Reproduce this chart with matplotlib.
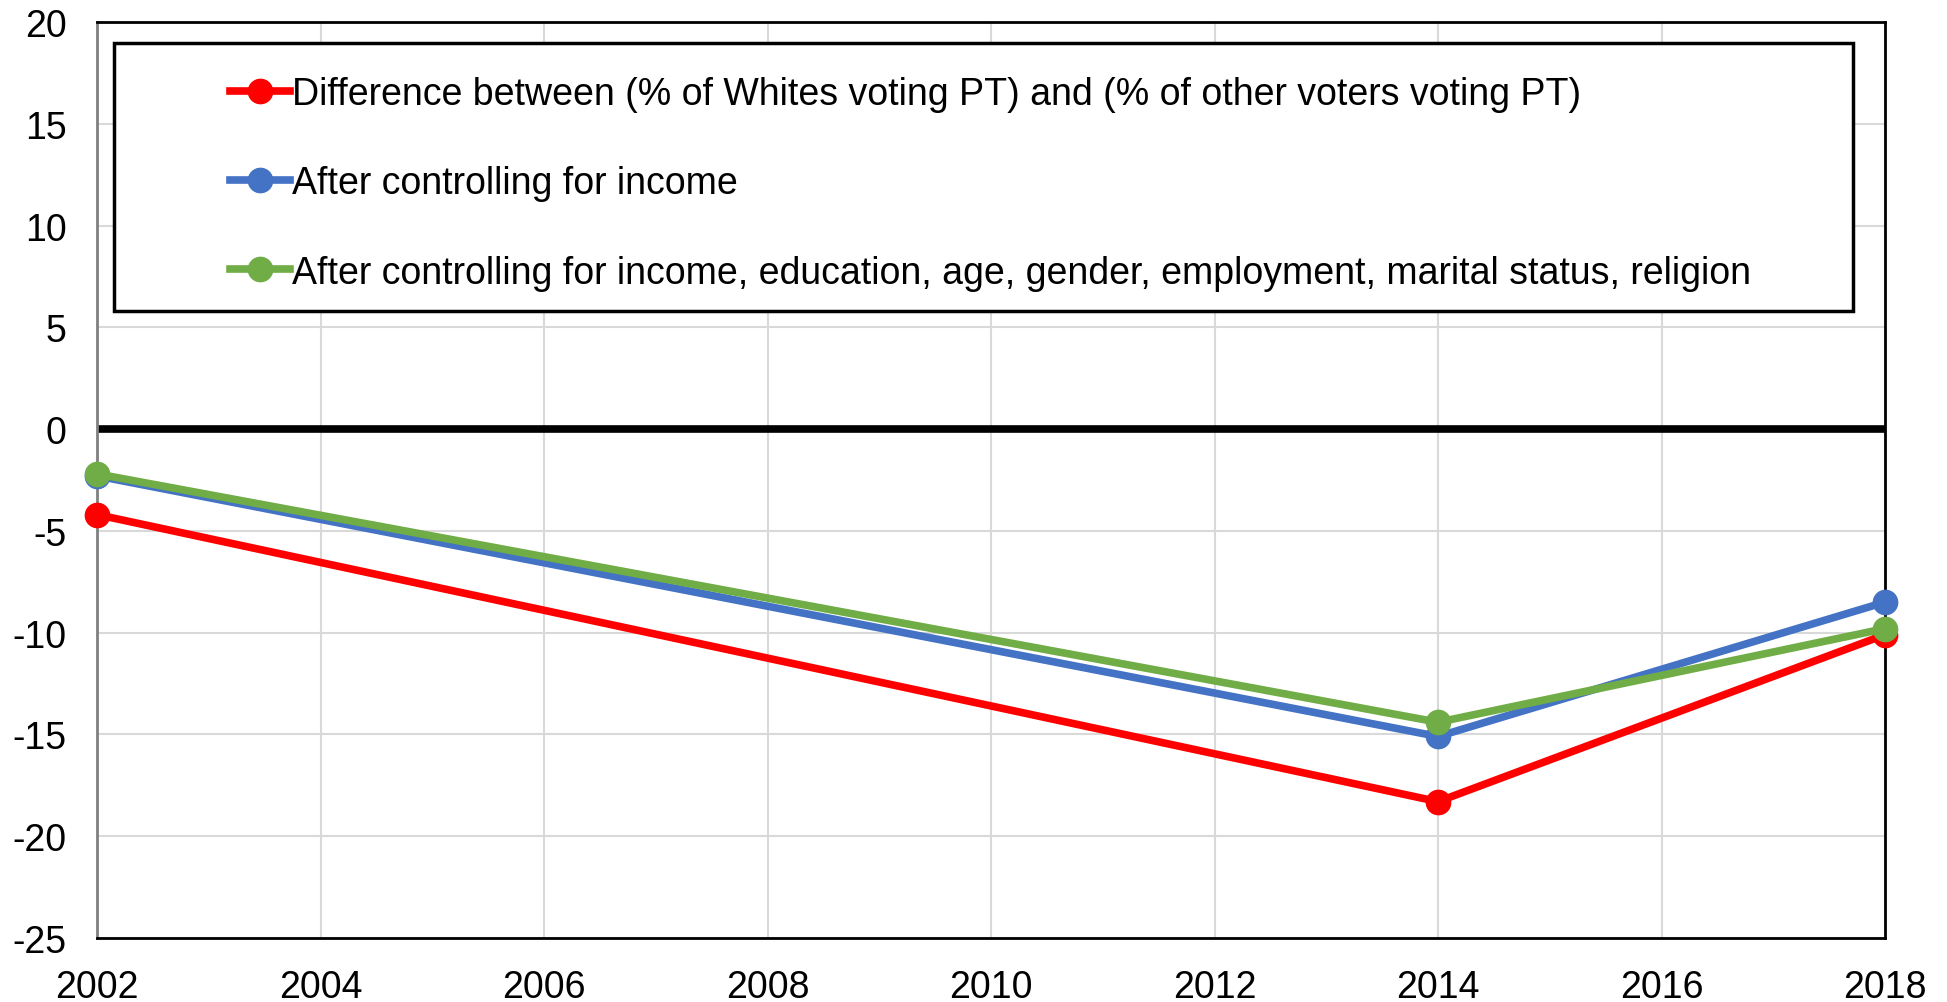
import matplotlib
matplotlib.use('Agg')
import matplotlib.pyplot as plt
from matplotlib.patches import Rectangle

# Data
years = [2002, 2014, 2018]
raw_gap = [-4.2, -18.3, -10.1]
ctrl_income = [-2.3, -15.1, -8.5]
ctrl_all = [-2.2, -14.4, -9.8]

labels = [
    'Difference between (% of Whites voting PT) and (% of other voters voting PT)',
    'After controlling for income',
    'After controlling for income, education, age, gender, employment, marital status, religion',
]
colors = ['#FF0000', '#4472C4', '#70AD47']

plt.rcParams['font.family'] = ['Liberation Sans', 'DejaVu Sans']
plt.rcParams['axes.unicode_minus'] = False

fig = plt.figure(figsize=(19.47, 10.03), dpi=100)
ax = fig.add_axes([97 / 1947, 1 - 939 / 1003, 1788 / 1947, 916 / 1003])

# Gridlines and zero line
ax.grid(True, color='#d9d9d9', linewidth=1.5, zorder=0)
ax.axhline(0, color='black', linewidth=5.5, zorder=2)

for vals, lab, col in zip([raw_gap, ctrl_income, ctrl_all], labels, colors):
    ax.plot(years, vals, color=col, linewidth=5.5, marker='o', markersize=17.5,
            label=lab, clip_on=False, zorder=3)

ax.set_xlim(2002, 2018)
ax.set_ylim(-25, 20)
ax.set_xticks(range(2002, 2019, 2))
ax.set_yticks(range(-25, 21, 5))
ax.tick_params(axis='both', length=0, labelsize=27)
ax.tick_params(axis='y', pad=22)
ax.tick_params(axis='x', pad=22)

for side in ['top', 'right', 'bottom']:
    ax.spines[side].set_color('black')
    ax.spines[side].set_linewidth(2)
ax.spines['left'].set_color('#808080')
ax.spines['left'].set_linewidth(2)

# Legend box drawn as a rectangle, legend itself frameless
ax.add_patch(Rectangle((0.0095, 0.6845), 0.9725, 0.2925, transform=ax.transAxes,
                       facecolor='white', edgecolor='black', linewidth=2.5, zorder=4))
ax.legend(loc='upper left', bbox_to_anchor=(230 / 1947, 1 - 77 / 1003),
          bbox_transform=fig.transFigure, frameon=False, fontsize=27,
          borderpad=0, borderaxespad=0, handlelength=1.6, handletextpad=0.05,
          labelspacing=1.42).set_zorder(5)

fig.savefig('out.png', dpi=100)
